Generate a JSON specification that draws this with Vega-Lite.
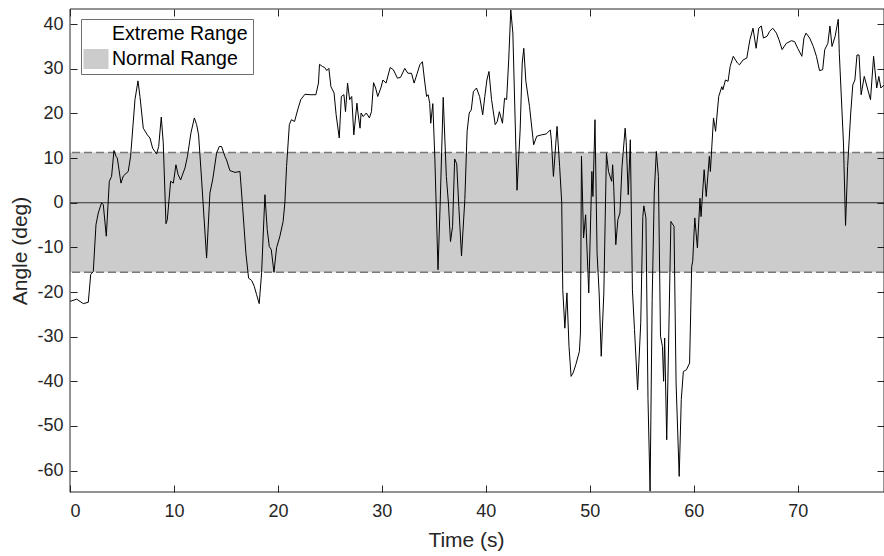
{
  "$schema": "https://vega.github.io/schema/vega-lite/v6.json",
  "width": 814,
  "height": 483,
  "autosize": {"type": "none"},
  "padding": {"left": 70, "top": 9, "right": 0, "bottom": 64},
  "background": "white",
  "config": {
    "font": "Liberation Sans",
    "view": {"stroke": null},
    "axis": {"grid": false, "domain": false, "zindex": 1, "offset": -7, "tickSize": 7, "tickColor": "#262626", "labelColor": "#262626", "titleColor": "#262626", "labelFontSize": 18, "titleFontSize": 21, "titleFontWeight": "normal", "labelExpr": "replace(datum.label, '\u2212', '-')"}
  },
  "datasets": {
    "bands": [
      {"range": "Extreme Range", "lo": -64.8, "hi": 43.4},
      {"range": "Normal Range", "lo": -15.6, "hi": 11.26}
    ],
    "limits": [{"y": 11.26}, {"y": -15.6}],
    "zero": [{"y": 0}],
    "box": [{"k": 1}],
    "angle": [
      {"t":0,"a":-22.1},{"t":0.64,"a":-21.6},{"t":1.28,"a":-22.6},{"t":1.76,"a":-22.3},{"t":1.99,"a":-16.1},{"t":2.24,"a":-15.4},{"t":2.5,"a":-4.9},{"t":2.72,"a":-2.3},{"t":3.04,"a":0},{"t":3.2,"a":-0.4},{"t":3.49,"a":-7.5},{"t":3.78,"a":4.8},{"t":4.0,"a":5.9},{"t":4.23,"a":11.7},{"t":4.42,"a":10.4},{"t":4.55,"a":10.0},{"t":4.9,"a":4.4},{"t":5.13,"a":6.0},{"t":5.6,"a":7.0},{"t":5.83,"a":10.4},{"t":6.25,"a":23.1},{"t":6.54,"a":27.3},{"t":6.73,"a":23.8},{"t":7.05,"a":16.7},{"t":7.44,"a":15.2},{"t":7.69,"a":14.5},{"t":7.95,"a":12.2},{"t":8.33,"a":10.9},{"t":8.53,"a":12.6},{"t":8.78,"a":19.2},{"t":8.97,"a":13.4},{"t":9.23,"a":-4.7},{"t":9.36,"a":-3.8},{"t":9.68,"a":4.8},{"t":9.94,"a":4.4},{"t":10.19,"a":8.5},{"t":10.4,"a":6.3},{"t":10.64,"a":5.1},{"t":11.06,"a":7.8},{"t":11.3,"a":10.4},{"t":11.63,"a":15.6},{"t":11.96,"a":19.0},{"t":12.18,"a":17.5},{"t":12.37,"a":15.2},{"t":12.66,"a":5.1},{"t":13.14,"a":-12.4},{"t":13.46,"a":2.2},{"t":13.72,"a":5.1},{"t":14.1,"a":11.1},{"t":14.36,"a":12.6},{"t":14.58,"a":12.6},{"t":14.9,"a":10.4},{"t":15.06,"a":9.6},{"t":15.38,"a":7.2},{"t":15.87,"a":6.8},{"t":16.35,"a":7.0},{"t":16.6,"a":-0.8},{"t":16.92,"a":-11.3},{"t":17.18,"a":-16.9},{"t":17.47,"a":-17.4},{"t":17.72,"a":-18.7},{"t":17.95,"a":-20.6},{"t":18.2,"a":-22.6},{"t":18.43,"a":-15.7},{"t":18.75,"a":1.8},{"t":18.97,"a":-6.0},{"t":19.17,"a":-9.8},{"t":19.36,"a":-10.5},{"t":19.62,"a":-15.6},{"t":19.87,"a":-10.1},{"t":20.19,"a":-7.5},{"t":20.5,"a":-4.2},{"t":20.67,"a":0},{"t":20.83,"a":8.1},{"t":21.1,"a":17.5},{"t":21.3,"a":18.6},{"t":21.6,"a":18.2},{"t":21.9,"a":20.8},{"t":22.2,"a":23.1},{"t":22.6,"a":24.3},{"t":23.1,"a":24.2},{"t":23.65,"a":24.2},{"t":23.9,"a":26.8},{"t":24.0,"a":31.0},{"t":24.3,"a":30.5},{"t":24.5,"a":30.3},{"t":24.7,"a":29.6},{"t":24.9,"a":30.1},{"t":25.1,"a":26.0},{"t":25.4,"a":24.6},{"t":25.6,"a":19.7},{"t":25.9,"a":14.5},{"t":26.1,"a":23.8},{"t":26.35,"a":24.2},{"t":26.5,"a":20.4},{"t":26.7,"a":26.8},{"t":26.9,"a":23.1},{"t":27.1,"a":23.8},{"t":27.3,"a":15.2},{"t":27.6,"a":22.3},{"t":27.7,"a":20.1},{"t":27.9,"a":16.7},{"t":28.0,"a":20.1},{"t":28.2,"a":19.3},{"t":28.5,"a":20.1},{"t":28.8,"a":19.0},{"t":29.0,"a":20.4},{"t":29.2,"a":26.9},{"t":29.4,"a":25.7},{"t":29.6,"a":23.8},{"t":29.9,"a":25.7},{"t":30.1,"a":27.5},{"t":30.4,"a":26.8},{"t":30.8,"a":30.3},{"t":31.1,"a":29.8},{"t":31.5,"a":27.9},{"t":31.8,"a":28.1},{"t":32.2,"a":30.1},{"t":32.5,"a":29.0},{"t":32.85,"a":29.0},{"t":33.1,"a":26.8},{"t":33.4,"a":29.0},{"t":33.65,"a":30.9},{"t":33.9,"a":31.6},{"t":34.1,"a":27.5},{"t":34.3,"a":23.8},{"t":34.45,"a":24.2},{"t":34.6,"a":22.3},{"t":34.7,"a":17.8},{"t":34.9,"a":22.2},{"t":35.1,"a":9.6},{"t":35.4,"a":-15.0},{"t":35.6,"a":-0.8},{"t":35.9,"a":23.6},{"t":36.2,"a":5.9},{"t":36.4,"a":0},{"t":36.6,"a":-8.7},{"t":36.8,"a":-5.3},{"t":37.0,"a":9.8},{"t":37.2,"a":8.7},{"t":37.4,"a":-0.8},{"t":37.66,"a":-11.9},
      {"t":37.98,"a":0.7},{"t":38.2,"a":16.0},{"t":38.4,"a":20.1},{"t":38.6,"a":20.8},{"t":38.8,"a":24.9},{"t":39.1,"a":25.7},{"t":39.4,"a":23.8},{"t":39.7,"a":19.7},{"t":39.9,"a":23.8},{"t":40.1,"a":27.5},{"t":40.3,"a":29.4},{"t":40.55,"a":23.1},{"t":40.9,"a":17.5},{"t":41.1,"a":18.2},{"t":41.3,"a":20.4},{"t":41.6,"a":17.8},{"t":41.8,"a":23.4},{"t":42.0,"a":23.1},{"t":42.2,"a":32.0},{"t":42.4,"a":43.2},{"t":42.6,"a":38.0},{"t":42.8,"a":20.1},{"t":43.0,"a":2.8},{"t":43.3,"a":16.3},{"t":43.5,"a":31.3},{"t":43.65,"a":34.6},{"t":43.85,"a":27.2},{"t":44.2,"a":21.6},{"t":44.6,"a":13.0},{"t":44.9,"a":14.9},{"t":45.35,"a":15.2},{"t":45.8,"a":15.4},{"t":46.2,"a":16.3},{"t":46.3,"a":14.1},{"t":46.5,"a":5.9},{"t":46.85,"a":17.1},{"t":47.1,"a":8.1},{"t":47.3,"a":0},{"t":47.4,"a":-19.5},{"t":47.6,"a":-28.1},{"t":47.8,"a":-20.2},{"t":48.0,"a":-32.2},{"t":48.2,"a":-38.9},{"t":48.4,"a":-38.1},{"t":48.65,"a":-36.3},{"t":49.0,"a":-33.3},{"t":49.1,"a":-29.2},{"t":49.2,"a":10.4},{"t":49.4,"a":-7.9},{"t":49.6,"a":-2.7},{"t":49.9,"a":-20.2},{"t":50.2,"a":7.0},{"t":50.3,"a":1.4},{"t":50.5,"a":18.6},{"t":50.7,"a":-11.3},{"t":50.9,"a":-20.2},{"t":51.1,"a":-34.4},{"t":51.35,"a":-20.2},{"t":51.6,"a":11.1},{"t":51.8,"a":7.0},{"t":52.1,"a":4.8},{"t":52.2,"a":8.5},{"t":52.3,"a":3.7},{"t":52.5,"a":-9.4},{"t":52.7,"a":-3.8},{"t":52.9,"a":-2.3},{"t":53.1,"a":8.1},{"t":53.4,"a":16.7},{"t":53.5,"a":13.7},{"t":53.7,"a":1.8},{"t":53.9,"a":14.1},{"t":54.1,"a":-19.5},{"t":54.3,"a":-28.4},{"t":54.6,"a":-41.9},{"t":54.9,"a":-26.9},{"t":55.1,"a":-3.1},{"t":55.2,"a":-0.7},{"t":55.4,"a":-3.4},{"t":55.6,"a":-44.1},{"t":55.8,"a":-64.6},{"t":56.0,"a":-21.7},{"t":56.2,"a":2.2},{"t":56.4,"a":11.5},{"t":56.6,"a":5.9},{"t":56.8,"a":-29.9},{"t":56.99,"a":-32.2},{"t":57.1,"a":-40.0},{"t":57.2,"a":-30.3},{"t":57.4,"a":-53.1},{"t":57.6,"a":-29.2},{"t":57.8,"a":-4.2},{"t":58.1,"a":-5.3},{"t":58.3,"a":-40.4},{"t":58.6,"a":-61.3},{"t":58.8,"a":-44.1},{"t":59.0,"a":-37.8},{"t":59.3,"a":-37.4},{"t":59.6,"a":-35.9},{"t":59.8,"a":-14.3},{"t":59.9,"a":-13.1},{"t":60.1,"a":-3.4},{"t":60.35,"a":-10.1},{"t":60.6,"a":1.0},{"t":60.7,"a":-3.1},{"t":61.0,"a":7.4},{"t":61.2,"a":1.4},{"t":61.5,"a":10.4},{"t":61.6,"a":7.0},{"t":61.9,"a":19.0},{"t":62.1,"a":16.0},{"t":62.4,"a":23.8},{"t":62.7,"a":26.0},{"t":62.8,"a":25.3},{"t":63.05,"a":27.5},{"t":63.3,"a":27.2},{"t":63.5,"a":30.5},{"t":63.8,"a":32.8},{"t":64.2,"a":31.3},{"t":64.4,"a":30.9},{"t":64.75,"a":32.0},{"t":65.1,"a":32.4},{"t":65.4,"a":36.5},{"t":65.7,"a":39.1},{"t":66.0,"a":34.6},{"t":66.25,"a":39.1},{"t":66.5,"a":39.6},{"t":66.7,"a":36.9},{"t":67.05,"a":37.3},{"t":67.3,"a":38.4},{"t":67.6,"a":39.1},{"t":67.95,"a":38.0},{"t":68.2,"a":36.5},{"t":68.5,"a":34.3},{"t":68.9,"a":35.7},{"t":69.4,"a":36.3},{"t":69.7,"a":36.1},{"t":70.0,"a":34.6},{"t":70.4,"a":32.8},{"t":70.6,"a":36.9},{"t":70.8,"a":38.0},{"t":71.15,"a":36.9},{"t":71.5,"a":35.0},{"t":71.8,"a":32.8},{"t":72.1,"a":29.6},{"t":72.4,"a":29.8},{"t":72.6,"a":34.3},{"t":72.9,"a":35.7},{"t":73.1,"a":39.6},{"t":73.3,"a":35.0},{"t":73.6,"a":37.3},{"t":73.9,"a":41.1},{"t":74.0,"a":33.5},{"t":74.4,"a":13.4},{"t":74.6,"a":-5.1},{"t":74.8,"a":8.1},{"t":75.1,"a":20.1},{"t":75.3,"a":26.4},{"t":75.5,"a":27.5},{"t":75.7,"a":33.1},{"t":75.9,"a":33.1},{"t":76.1,"a":24.2},{"t":76.4,"a":28.3},{"t":76.7,"a":25.7},{"t":77.0,"a":23.1},{"t":77.3,"a":32.8},{"t":77.6,"a":25.7},{"t":77.8,"a":28.3},{"t":78.0,"a":25.7},{"t":78.3,"a":26.4}
    ]
  },
  "resolve": {"axis": {"x": "independent", "y": "independent"}},
  "layer": [
    {
      "data": {"name": "bands"},
      "mark": {"type": "rect", "strokeWidth": 0, "opacity": 0.2},
      "encoding": {
        "y": {"field": "lo", "type": "quantitative", "scale": {"domain": [-64.8, 43.4], "nice": false, "zero": false}, "axis": null},
        "y2": {"field": "hi"},
        "color": {
          "field": "range",
          "type": "nominal",
          "scale": {"domain": ["Extreme Range", "Normal Range"], "range": ["rgba(255,255,255,0)", "#000000"]},
          "legend": {
            "title": null,
            "orient": "none",
            "legendX": 11,
            "legendY": 10,
            "direction": "vertical",
            "strokeColor": "#6e6e6e",
            "fillColor": "#ffffff",
            "padding": 5,
            "symbolType": "M-1.25,-1H1.25V1H-1.25Z",
            "symbolSize": 400,
            "symbolStrokeWidth": 0,
            "symbolOpacity": 0.2,
            "labelFontSize": 19.5,
            "labelColor": "#000000",
            "labelOffset": 6,
            "rowPadding": 5,
            "zindex": 2
          }
        }
      }
    },
    {
      "data": {"name": "limits"},
      "mark": {"type": "rule", "color": "#777777", "strokeWidth": 1.5, "strokeDash": [8, 4]},
      "encoding": {"y": {"field": "y", "type": "quantitative", "axis": null}}
    },
    {
      "data": {"name": "zero"},
      "mark": {"type": "rule", "color": "#333333", "strokeWidth": 1},
      "encoding": {"y": {"field": "y", "type": "quantitative", "axis": null}}
    },
    {
      "data": {"name": "angle"},
      "mark": {"type": "line", "color": "#000000", "strokeWidth": 1, "interpolate": "linear"},
      "encoding": {
        "x": {"field": "t", "type": "quantitative", "scale": {"domain": [0, 78.3], "nice": false, "zero": false},
              "axis": {"title": "Time (s)", "values": [0,10,20,30,40,50,60,70], "orient": "bottom", "labelPadding": 10, "titleX": 396, "titleY": 55, "titleBaseline": "middle", "titleAlign": "center"}},
        "y": {"field": "a", "type": "quantitative",
              "axis": {"title": "Angle (deg)", "values": [-60,-50,-40,-30,-20,-10,0,10,20,30,40], "orient": "left", "labelPadding": 7, "titleX": -57, "titleY": 241.5, "titleBaseline": "middle", "titleAlign": "center"}}
      }
    },
    {
      "data": {"name": "angle"},
      "mark": {"type": "line", "strokeOpacity": 0},
      "encoding": {
        "x": {"field": "t", "type": "quantitative", "axis": {"title": null, "labels": false, "values": [0,10,20,30,40,50,60,70], "orient": "top"}},
        "y": {"field": "a", "type": "quantitative", "axis": {"title": null, "labels": false, "values": [-60,-50,-40,-30,-20,-10,0,10,20,30,40], "orient": "right"}}
      }
    },
    {
      "data": {"name": "box"},
      "mark": {"type": "rect", "filled": false, "fill": null, "stroke": "#262626", "strokeWidth": 1},
      "encoding": {}
    }
  ]
}
